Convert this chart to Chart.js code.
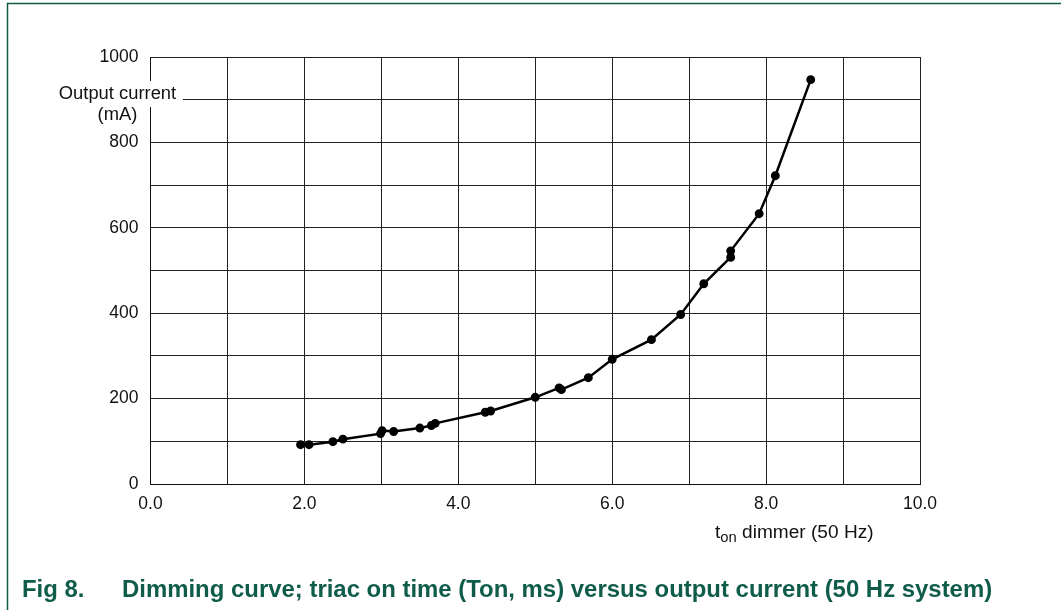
<!DOCTYPE html>
<html>
<head>
<meta charset="utf-8">
<script src="https://cdn.jsdelivr.net/npm/chart.js@4/dist/chart.umd.min.js"></script>
<style>
  html, body { margin: 0; padding: 0; background: #fff; }
  #wrap { width: 1061px; height: 610px; position: relative; }
</style>
</head>
<body>
<div id="wrap"><canvas id="DimChart" width="1061" height="610"></canvas></div>
<script>
// triac on time (ms) and output current (mA)
const tOn = [1.95, 2.06, 2.37, 2.50, 2.99, 3.01, 3.16, 3.50, 3.65, 3.70, 4.35, 4.42,
  5.00, 5.31, 5.34, 5.69, 6.00, 6.51, 6.89, 7.19, 7.54, 7.54, 7.91, 8.12, 8.58];
const outputCurrent = [92, 92, 99, 105, 118, 125, 123, 131, 137, 142, 168, 171,
  203, 225, 221, 249, 292, 338, 397, 469, 531, 546, 633, 722, 947];

const xLabels = ["0.0", "2.0", "4.0", "6.0", "8.0", "10.0"];
const yLabels = ["0", "200", "400", "600", "800", "1000"];

const green = "#0f5c4a";
const sans = "'Liberation Sans', Arial, sans-serif";
const tickFont = { family: sans, size: 17.5 };

// draw text stretched a little horizontally, like the scanned figure
function wideText(c, str, x, y, sx, align) {
  c.save();
  c.translate(x, y);
  c.scale(sx, 1);
  c.textAlign = align || "left";
  c.fillText(str, 0, 0);
  const w = c.measureText(str).width * sx;
  c.restore();
  return w;
}

document.addEventListener("DOMContentLoaded", function () {
  const ctx = document.getElementById("DimChart").getContext("2d");

  const points = tOn.map((t, i) => ({ x: t, y: outputCurrent[i] }));

  const decorations = {
    id: "decorations",
    afterDraw(chart) {
      const c = chart.ctx;
      c.save();
      c.strokeStyle = green;
      c.lineWidth = 1.5;
      c.beginPath();
      c.moveTo(7.5, 610);
      c.lineTo(7.5, 3.5);
      c.lineTo(1061, 3.5);
      c.stroke();

      // y axis title sits on a white box over the axis line
      c.fillStyle = "#fff";
      c.fillRect(50, 81, 133, 26);
      c.fillStyle = "#111";
      c.textBaseline = "alphabetic";
      c.font = "18px " + sans;
      wideText(c, "Output current", 117.5, 99, 1.02, "center");
      wideText(c, "(mA)", 117.5, 120, 1.02, "center");

      // x axis title with subscript
      let x = 715;
      c.font = "18px " + sans;
      x += wideText(c, "t", x, 538, 1.06);
      c.font = "14px " + sans;
      x += wideText(c, "on", x, 542, 1.06);
      c.font = "18px " + sans;
      wideText(c, " dimmer (50 Hz)", x, 538, 1.06);

      c.fillStyle = green;
      c.font = "bold 23px " + sans;
      wideText(c, "Fig 8.", 22, 597, 1.04);
      wideText(c, "Dimming curve; triac on time (Ton, ms) versus output current (50 Hz system)", 122, 597, 1.04);
      c.restore();
    },
  };

  new Chart(ctx, {
    type: "scatter",
    data: {
      datasets: [
        {
          data: points,
          showLine: true,
          borderColor: "#000",
          backgroundColor: "#000",
          borderWidth: 2.5,
          pointRadius: 3.2,
          pointHoverRadius: 3.2,
          tension: 0,
        },
      ],
    },
    options: {
      responsive: false,
      animation: false,
      layout: { padding: { left: 0, right: 141, top: 57, bottom: 0 } },
      plugins: { legend: { display: false }, tooltip: { enabled: false } },
      scales: {
        x: {
          type: "linear",
          min: 0,
          max: 10,
          afterFit: (s) => { s.height = 126; },
          border: { color: "#111", width: 1 },
          grid: { color: "#222", lineWidth: 1, drawTicks: false },
          ticks: {
            stepSize: 1,
            padding: 10,
            color: "#111",
            font: tickFont,
            maxRotation: 0,
            autoSkip: false,
            callback: (v) => (v % 2 === 0 ? xLabels[v / 2] : ""),
          },
        },
        y: {
          min: 0,
          max: 1000,
          afterFit: (s) => { s.width = 150.5; },
          border: { color: "#111", width: 1 },
          grid: { color: "#222", lineWidth: 1, drawTicks: false },
          ticks: {
            stepSize: 100,
            padding: 12,
            color: "#111",
            font: tickFont,
            autoSkip: false,
            callback: (v) => (v % 200 === 0 ? yLabels[v / 200] : ""),
          },
        },
      },
    },
    plugins: [decorations],
  });
});
</script>
</body>
</html>
